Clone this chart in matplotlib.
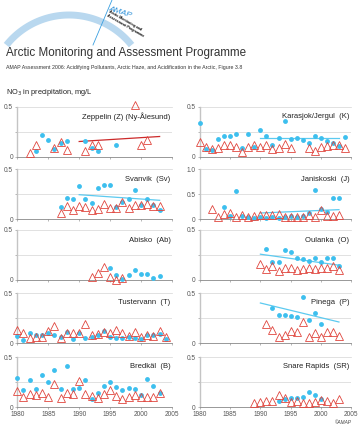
import numpy as np
import matplotlib.pyplot as plt

plt.rcParams['font.family'] = ['Liberation Sans', 'DejaVu Sans']

# ---- data: blue dots, red triangles, trend lines (start/end year, start/end value)
zep_dot_yr = [1983, 1984, 1985, 1986, 1987, 1988, 1991, 1992, 1993, 1996]
zep_dot = [0.06, 0.22, 0.17, 0.08, 0.14, 0.155, 0.155, 0.09, 0.06, 0.12]
zep_tri_yr = [1982, 1983, 1986, 1987, 1988, 1991, 1992, 1993, 1999, 2000, 2001]
zep_tri = [0.035, 0.12, 0.087, 0.15, 0.065, 0.06, 0.12, 0.12, 0.52, 0.12, 0.17]
zep_trend = [[1990, 2003], [0.155, 0.205]]

kar_dot_yr = list(range(1980, 2005))
kar_dot = [0.34, 0.08, 0.067, 0.18, 0.205, 0.205, 0.23, 0.087, 0.23, 0.10,
           0.27, 0.205, 0.12, 0.185, 0.355, 0.18, 0.19, 0.17, 0.14, 0.205,
           0.19, 0.155, 0.14, 0.11, 0.195]
kar_tri_yr = [1980, 1981, 1982, 1983, 1984, 1985, 1986, 1987, 1988, 1989, 1990,
              1991, 1992, 1993, 1994, 1995, 1998, 1999, 2000, 2001, 2002, 2003, 2004]
kar_tri = [0.145, 0.095, 0.077, 0.087, 0.12, 0.12, 0.097, 0.054, 0.104, 0.12, 0.097,
           0.12, 0.08, 0.087, 0.127, 0.087, 0.087, 0.064, 0.097, 0.107, 0.12, 0.12, 0.087]
kar_trend = [[1990, 2003], [0.19, 0.19]]

sva_dot_yr = list(range(1987, 2004))
sva_dot = [0.117, 0.21, 0.197, 0.333, 0.2, 0.163, 0.307, 0.337, 0.337, 0.117,
           0.173, 0.2, 0.293, 0.137, 0.2, 0.137, 0.087]
sva_tri_yr = list(range(1987, 2004))
sva_tri = [0.063, 0.127, 0.093, 0.13, 0.12, 0.087, 0.103, 0.147, 0.107, 0.107,
           0.173, 0.107, 0.14, 0.14, 0.153, 0.127, 0.13]
sva_trend = [[1990, 2003], [0.243, 0.187]]

jan_dot_yr = list(range(1984, 2004))
jan_dot = [0.233, 0.067, 0.553, 0.067, 0.033, 0.02, 0.047, 0.013, 0.033, 0.02,
           0.033, 0.06, 0.033, 0.067, 0.113, 0.58, 0.2, 0.133, 0.427, 0.427]
jan_tri_yr = list(range(1982, 2004))
jan_tri = [0.193, 0.047, 0.1, 0.12, 0.047, 0.087, 0.047, 0.067, 0.087, 0.087, 0.087,
           0.1, 0.033, 0.047, 0.033, 0.033, 0.087, 0.047, 0.187, 0.067, 0.067, 0.087]
jan_trend = [[1990, 2003], [0.12, 0.187]]

abi_dot_yr = list(range(1995, 2004))
abi_dot = [0.117, 0.047, 0.01, 0.054, 0.097, 0.064, 0.064, 0.02, 0.037]
abi_tri_yr = [1992, 1993, 1994, 1995, 1996, 1997]
abi_tri = [0.027, 0.074, 0.13, 0.034, 0.0, 0.02]

oul_dot_yr = list(range(1991, 2004))
oul_dot = [0.315, 0.185, 0.185, 0.3, 0.285, 0.225, 0.208, 0.188, 0.225, 0.178,
           0.225, 0.225, 0.14]
oul_tri_yr = list(range(1990, 2004))
oul_tri = [0.164, 0.107, 0.141, 0.09, 0.12, 0.12, 0.104, 0.11, 0.12, 0.107,
           0.12, 0.12, 0.141, 0.097]
oul_trend = [[1990, 2003], [0.258, 0.148]]

tus_dot_yr = list(range(1980, 2005))
tus_dot = [0.067, 0.027, 0.1, 0.077, 0.077, 0.1, 0.077, 0.057, 0.107, 0.037,
           0.097, 0.053, 0.063, 0.077, 0.117, 0.063, 0.047, 0.053, 0.06, 0.047,
           0.037, 0.077, 0.077, 0.087, 0.037]
tus_tri_yr = list(range(1980, 2005))
tus_tri = [0.13, 0.097, 0.053, 0.063, 0.063, 0.12, 0.17, 0.053, 0.097, 0.097,
           0.097, 0.193, 0.077, 0.093, 0.11, 0.103, 0.127, 0.103, 0.07, 0.113,
           0.06, 0.077, 0.07, 0.12, 0.06]

pin_dot_yr = list(range(1992, 2001))
pin_dot = [0.35, 0.283, 0.283, 0.273, 0.257, 0.457, 0.227, 0.3, 0.19]
pin_tri_yr = list(range(1991, 2004))
pin_tri = [0.19, 0.127, 0.06, 0.08, 0.12, 0.107, 0.21, 0.06, 0.1, 0.057,
           0.113, 0.107, 0.067]
pin_trend = [[1990, 2003], [0.4, 0.21]]

bre_dot_yr = list(range(1980, 2004))
bre_dot = [0.293, 0.167, 0.267, 0.177, 0.32, 0.25, 0.37, 0.177, 0.41, 0.177,
           0.193, 0.267, 0.08, 0.137, 0.21, 0.253, 0.197, 0.17, 0.193, 0.183,
           0.117, 0.283, 0.21, 0.137]
bre_tri_yr = list(range(1980, 2004))
bre_tri = [0.16, 0.097, 0.127, 0.12, 0.137, 0.097, 0.23, 0.093, 0.137, 0.133,
           0.257, 0.127, 0.11, 0.093, 0.133, 0.167, 0.11, 0.077, 0.097, 0.12,
           0.097, 0.097, 0.097, 0.137]

sna_dot_yr = list(range(1993, 2001))
sna_dot = [0.06, 0.077, 0.093, 0.087, 0.103, 0.147, 0.12, 0.077]
sna_tri_yr = list(range(1989, 2004))
sna_tri = [0.043, 0.053, 0.063, 0.063, 0.12, 0.087, 0.053, 0.06, 0.043, 0.043,
           0.053, 0.07, 0.06, 0.043, 0.077]

year_ticks = [1980, 1985, 1990, 1995, 2000, 2005]

BLUE = '#3dbfee'
RED = '#e0463e'
TBLUE = '#5ccaf0'
TRED = '#cc2a2a'

# (label, column, row, ymax, dots, triangles, trend, trend colour)
panels = [
    ('Zeppelin (Z) (Ny-Ålesund)', 0, 0, 0.5, (zep_dot_yr, zep_dot), (zep_tri_yr, zep_tri), zep_trend, TRED),
    ('Karasjok/Jergul  (K)', 1, 0, 0.5, (kar_dot_yr, kar_dot), (kar_tri_yr, kar_tri), kar_trend, TBLUE),
    ('Svanvik  (Sv)', 0, 1, 0.5, (sva_dot_yr, sva_dot), (sva_tri_yr, sva_tri), sva_trend, TBLUE),
    ('Janiskoski  (J)', 1, 1, 1.0, (jan_dot_yr, jan_dot), (jan_tri_yr, jan_tri), jan_trend, TBLUE),
    ('Abisko  (Ab)', 0, 2, 0.5, (abi_dot_yr, abi_dot), (abi_tri_yr, abi_tri), None, None),
    ('Oulanka  (O)', 1, 2, 0.5, (oul_dot_yr, oul_dot), (oul_tri_yr, oul_tri), oul_trend, TBLUE),
    ('Tustervann  (T)', 0, 3, 0.5, (tus_dot_yr, tus_dot), (tus_tri_yr, tus_tri), None, None),
    ('Pinega  (P)', 1, 3, 0.5, (pin_dot_yr, pin_dot), (pin_tri_yr, pin_tri), pin_trend, TBLUE),
    ('Bredkäl  (B)', 0, 4, 0.5, (bre_dot_yr, bre_dot), (bre_tri_yr, bre_tri), None, None),
    ('Snare Rapids  (SR)', 1, 4, 0.5, (sna_dot_yr, sna_dot), (sna_tri_yr, sna_tri), None, None),
]

W, H = 360, 429
fig = plt.figure(figsize=(W / 100, H / 100), dpi=100)

# ---- header / logo (pixel coordinates on an overlay axes)
bg = fig.add_axes([0, 0, 1, 1])
bg.set_xlim(0, W)
bg.set_ylim(H, 0)
bg.axis('off')
th = np.linspace(np.radians(38.6), np.radians(141.4), 100)
bg.plot(69 + 80 * np.cos(th), 95 - 80 * np.sin(th), color='#b9d8ef', lw=5,
        solid_capstyle='butt')
bg.plot([93, 112], [45, 0], color='#3a9fe0', lw=0.6)
bg.text(108, 12, 'AMAP', color='#2a8fd8', fontsize=6, style='italic',
        rotation=-18, va='center')
bg.text(106, 24, 'Arctic Monitoring and\nAssessment Programme', fontsize=2.6,
        fontweight='bold', rotation=-30, va='center', linespacing=1.0)

fig.text(6 / W, 1 - 53 / H, 'Arctic Monitoring and Assessment Programme',
         fontsize=8.4, color='#333333', va='center')
fig.text(6 / W, 1 - 67 / H, 'AMAP Assessment 2006: Acidifying Pollutants, Arctic Haze, '
         'and Acidification in the Arctic, Figure 3.8', fontsize=3.8,
         color='#333333', va='center')
fig.text(6 / W, 1 - 92 / H, 'NO$_3$ in precipitation, mg/L', fontsize=5.3,
         color='#222222', va='center')
fig.text(352 / W, 1 - 422 / H, '©AMAP', fontsize=3.4, style='italic',
         color='#444444', ha='right', va='center')

col_x = [17.3, 200]
col_w = [154.7, 151]
row_top = [107, 169, 230, 293, 357]
ph = 50

for label, c, r, ymax, dots, tris, trend, tcol in panels:
    ax = fig.add_axes([col_x[c] / W, 1 - (row_top[r] + ph) / H,
                       col_w[c] / W, ph / H])
    ax.set_xlim(1980, 2005)
    ax.set_ylim(0, ymax)
    for s in ('top', 'right'):
        ax.spines[s].set_visible(False)
    ax.spines['left'].set_color('#c4c4c4')
    ax.spines['left'].set_linewidth(1.0)
    ax.spines['bottom'].set_color('#888888')
    ax.spines['bottom'].set_linewidth(0.6)
    ax.axhline(ymax / 2, color='#d4d4d4', lw=0.5, zorder=0)
    ax.axhline(ymax, color='#d4d4d4', lw=0.5, zorder=0, clip_on=False)

    if ymax == 1.0:
        ax.set_yticks([0, 0.5, 1.0])
        ax.set_yticklabels(['0', '0.5', '1.0'])
    else:
        ax.set_yticks([0, 0.25, 0.5])
        ax.set_yticklabels(['0', '', '0.5'])
    ax.set_xticks(year_ticks)
    if r == 4:
        ax.set_xticklabels([str(y) for y in year_ticks])
    else:
        ax.set_xticklabels([])
    ax.tick_params(axis='both', labelsize=4.7, labelcolor='#555555',
                   color='#999999', length=1.5, width=0.5, pad=1.5)

    if trend is not None:
        ax.plot(trend[0], trend[1], color=tcol, lw=0.9, zorder=2)
    ax.plot(dots[0], dots[1], 'o', color=BLUE, ms=3.5, mec='none', zorder=3,
            clip_on=False)
    ax.plot(tris[0], tris[1], '^', mfc='none', mec=RED, mew=0.6, ms=5.8,
            zorder=4, clip_on=False)
    ax.text(0.99, 0.8, label, transform=ax.transAxes, ha='right', va='center',
            fontsize=5.5, color='#222222')

fig.savefig('out.png', dpi=100)
